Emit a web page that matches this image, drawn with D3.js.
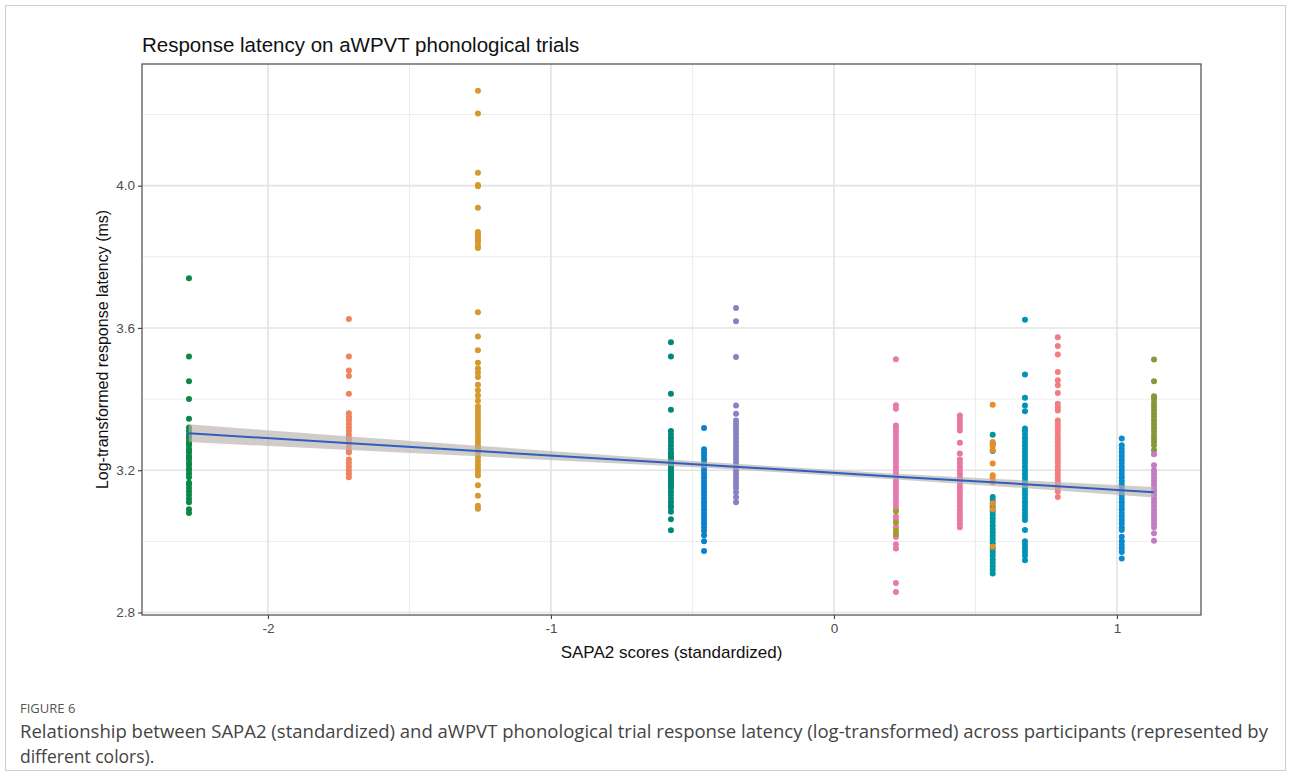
<!DOCTYPE html>
<html>
<head>
<meta charset="utf-8">
<script src="https://cdn.jsdelivr.net/npm/d3@7"></script>
<style>
  body { margin: 0; background: #fff; }
  svg text { font-family: "Liberation Sans", Arial, sans-serif; }
  .cap { font-family: "Open Sans", "Noto Sans", sans-serif !important; }
</style>
</head>
<body>
<div id="chart"></div>
<script>
var width = 1290,
    height = 776;

var margin = {left: 142, top: 64, right: 89, bottom: 161};

// participant x positions (SAPA2 standardized)
var xPos = [-2.279, -1.714, -1.258, -0.576, -0.459, -0.346, 0.219, 0.445, 0.561, 0.675, 0.791, 1.017, 1.131];

// response latencies, one array per participant
var green1 = [3.74, 3.52, 3.45, 3.40, 3.345, 3.32, 3.31, 3.30, 3.295, 3.29, 3.28, 3.275, 3.27, 3.26, 3.255, 3.25, 3.24, 3.235, 3.23, 3.22, 3.215, 3.205, 3.20, 3.19, 3.18, 3.165, 3.16, 3.15, 3.14, 3.13, 3.12, 3.11, 3.09, 3.08];
var salmon2 = [3.625, 3.52, 3.48, 3.465, 3.415, 3.36, 3.35, 3.345, 3.34, 3.33, 3.32, 3.31, 3.30, 3.29, 3.285, 3.275, 3.265, 3.255, 3.25, 3.23, 3.22, 3.21, 3.20, 3.19, 3.18];
var gold3 = [4.267, 4.203, 4.036, 4.002, 3.998, 3.938, 3.87, 3.865, 3.86, 3.855, 3.85, 3.845, 3.84, 3.83, 3.825, 3.644, 3.576, 3.537, 3.502, 3.486, 3.475, 3.462, 3.44, 3.425, 3.41, 3.395, 3.38, 3.37, 3.36, 3.35, 3.34, 3.33, 3.32, 3.31, 3.30, 3.29, 3.28, 3.27, 3.265, 3.26, 3.255, 3.25, 3.236, 3.225, 3.215, 3.205, 3.195, 3.185, 3.158, 3.128, 3.10, 3.092];
var teal4 = [3.56, 3.52, 3.415, 3.37, 3.31, 3.30, 3.29, 3.28, 3.27, 3.26, 3.25, 3.245, 3.24, 3.235, 3.23, 3.225, 3.22, 3.215, 3.21, 3.205, 3.20, 3.195, 3.19, 3.185, 3.18, 3.175, 3.17, 3.165, 3.16, 3.155, 3.15, 3.14, 3.13, 3.12, 3.11, 3.10, 3.095, 3.083, 3.062, 3.031];
var blue5 = [3.319, 3.259, 3.25, 3.24, 3.23, 3.22, 3.21, 3.20, 3.19, 3.18, 3.17, 3.16, 3.15, 3.14, 3.13, 3.12, 3.11, 3.10, 3.09, 3.08, 3.07, 3.06, 3.05, 3.04, 3.03, 3.017, 3.0, 2.973];
var lavender6 = [3.656, 3.619, 3.518, 3.382, 3.359, 3.34, 3.33, 3.32, 3.31, 3.30, 3.29, 3.28, 3.27, 3.26, 3.25, 3.24, 3.23, 3.22, 3.21, 3.20, 3.19, 3.18, 3.17, 3.16, 3.15, 3.138, 3.124, 3.11];
var pink7 = [3.512, 3.383, 3.373, 3.326, 3.32, 3.31, 3.30, 3.29, 3.28, 3.27, 3.26, 3.25, 3.24, 3.23, 3.22, 3.21, 3.20, 3.19, 3.18, 3.17, 3.16, 3.15, 3.14, 3.13, 3.12, 3.11, 3.10, 3.09, 3.07, 3.06, 3.04, 3.012, 2.992, 2.98, 2.883, 2.858];
var olive7 = [3.085, 3.052, 3.03, 3.02];
var pink8 = [3.354, 3.343, 3.333, 3.322, 3.312, 3.277, 3.247, 3.23, 3.22, 3.21, 3.20, 3.19, 3.18, 3.17, 3.16, 3.15, 3.14, 3.13, 3.12, 3.11, 3.10, 3.09, 3.08, 3.07, 3.06, 3.05, 3.04];
var teal9 = [3.300, 3.275, 3.254, 3.125, 3.115, 3.105, 3.095, 3.085, 3.075, 3.065, 3.055, 3.045, 3.035, 3.025, 3.015, 3.005, 2.995, 2.98, 2.97, 2.96, 2.95, 2.94, 2.93, 2.92, 2.91];
var orange9 = [3.384, 3.279, 3.268, 3.256, 3.219, 3.186, 3.178, 3.167, 3.107, 3.09, 2.985];
var tealblue10 = [3.623, 3.469, 3.404, 3.382, 3.366, 3.317, 3.31, 3.30, 3.29, 3.28, 3.27, 3.26, 3.25, 3.24, 3.23, 3.22, 3.21, 3.20, 3.19, 3.18, 3.17, 3.16, 3.15, 3.14, 3.13, 3.12, 3.11, 3.10, 3.09, 3.08, 3.07, 3.06, 3.032, 3.0, 2.99, 2.98, 2.97, 2.96, 2.947];
var salmon11 = [3.574, 3.549, 3.525, 3.476, 3.453, 3.439, 3.417, 3.387, 3.377, 3.368, 3.34, 3.33, 3.32, 3.31, 3.30, 3.29, 3.28, 3.27, 3.26, 3.25, 3.24, 3.23, 3.22, 3.21, 3.20, 3.19, 3.18, 3.17, 3.16, 3.15, 3.14, 3.125];
var blue12 = [3.289, 3.27, 3.26, 3.25, 3.24, 3.23, 3.22, 3.21, 3.20, 3.19, 3.18, 3.17, 3.16, 3.15, 3.14, 3.13, 3.12, 3.11, 3.10, 3.09, 3.08, 3.07, 3.06, 3.05, 3.04, 3.032, 3.013, 3.0, 2.99, 2.98, 2.97, 2.952];
var olive13 = [3.511, 3.45, 3.408, 3.40, 3.39, 3.38, 3.37, 3.36, 3.35, 3.34, 3.33, 3.32, 3.31, 3.30, 3.29, 3.28, 3.27, 3.256];
var orchid13 = [3.245, 3.214, 3.20, 3.19, 3.18, 3.17, 3.16, 3.15, 3.14, 3.13, 3.12, 3.11, 3.10, 3.09, 3.08, 3.07, 3.06, 3.05, 3.04, 3.023, 3.002];

// fitted line with confidence band
var fitX  = [-2.28, -1.71, -1.26, -0.58, -0.35, 0.22, 0.56, 0.79, 1.13];
var fitY  = [3.304, 3.276, 3.254, 3.221, 3.210, 3.182, 3.166, 3.155, 3.138];
var fitLo = [3.279, 3.257, 3.239, 3.212, 3.202, 3.174, 3.156, 3.143, 3.123];
var fitHi = [3.329, 3.295, 3.269, 3.230, 3.218, 3.190, 3.176, 3.167, 3.153];

var xTicks = [-2, -1, 0, 1];
var yTicks = [2.8, 3.2, 3.6, 4.0];

// draw order: later groups sit on top
var groups = [
  {x: xPos[0],  color: "#0b8746", values: green1},
  {x: xPos[1],  color: "#ef825f", values: salmon2},
  {x: xPos[2],  color: "#d5992e", values: gold3},
  {x: xPos[3],  color: "#00897a", values: teal4},
  {x: xPos[4],  color: "#0a82cb", values: blue5},
  {x: xPos[5],  color: "#8683c5", values: lavender6},
  {x: xPos[6],  color: "#e47aaf", values: pink7},
  {x: xPos[6],  color: "#a69a2e", values: olive7},
  {x: xPos[7],  color: "#ea77a0", values: pink8},
  {x: xPos[8],  color: "#00979f", values: teal9},
  {x: xPos[8],  color: "#e98d25", values: orange9},
  {x: xPos[9],  color: "#0093b8", values: tealblue10},
  {x: xPos[10], color: "#f27c80", values: salmon11},
  {x: xPos[11], color: "#0a8bcb", values: blue12},
  {x: xPos[12], color: "#879739", values: olive13},
  {x: xPos[12], color: "#c27cc2", values: orchid13}
];

var svg = d3.select("#chart").append("svg")
    .attr("width", width)
    .attr("height", height);

// outer figure frame
svg.append("rect")
    .attr("x", 5.5).attr("y", 5.5)
    .attr("width", 1280).attr("height", 765)
    .attr("fill", "none")
    .attr("stroke", "#cfcfcf");

var pw = width - margin.left - margin.right,
    ph = height - margin.top - margin.bottom;

var x = d3.scaleLinear()
    .domain([-2.445, 1.297])
    .range([0, pw]);

var y = d3.scaleLinear()
    .domain([2.793, 4.342])
    .range([ph, 0]);

var g = svg.append("g")
    .attr("transform", "translate(" + margin.left + "," + margin.top + ")");

// minor grid
var xMinor = [-1.5, -0.5, 0.5],
    yMinor = [3.0, 3.4, 3.8, 4.2];
g.selectAll(".xminor").data(xMinor)
  .enter().append("line")
    .attr("x1", x).attr("x2", x).attr("y1", 0).attr("y2", ph)
    .attr("stroke", "#ececec").attr("stroke-width", 1);
g.selectAll(".yminor").data(yMinor)
  .enter().append("line")
    .attr("y1", y).attr("y2", y).attr("x1", 0).attr("x2", pw)
    .attr("stroke", "#ececec").attr("stroke-width", 1);

// major grid
g.selectAll(".xmajor").data(xTicks)
  .enter().append("line")
    .attr("x1", x).attr("x2", x).attr("y1", 0).attr("y2", ph)
    .attr("stroke", "#e3e3e3").attr("stroke-width", 1.6);
g.selectAll(".ymajor").data(yTicks)
  .enter().append("line")
    .attr("y1", y).attr("y2", y).attr("x1", 0).attr("x2", pw)
    .attr("stroke", "#e3e3e3").attr("stroke-width", 1.6);

// points
groups.forEach(function(grp) {
  g.append("g").selectAll("circle")
      .data(grp.values)
    .enter().append("circle")
      .attr("cx", x(grp.x))
      .attr("cy", function(d) { return y(d); })
      .attr("r", 3)
      .attr("fill", grp.color);
});

// confidence band + fit
var fit = fitX.map(function(d, i) { return {x: d, y: fitY[i], lo: fitLo[i], hi: fitHi[i]}; });

g.append("path")
    .datum(fit)
    .attr("fill", "#b9b1ad")
    .attr("fill-opacity", 0.65)
    .attr("d", d3.area()
      .x(function(d) { return x(d.x); })
      .y0(function(d) { return y(d.lo); })
      .y1(function(d) { return y(d.hi); }));

g.append("path")
    .datum(fit)
    .attr("fill", "none")
    .attr("stroke", "#2d5fbd")
    .attr("stroke-width", 2)
    .attr("d", d3.line()
      .x(function(d) { return x(d.x); })
      .y(function(d) { return y(d.y); }));

// panel border
g.append("rect")
    .attr("width", pw).attr("height", ph)
    .attr("fill", "none")
    .attr("stroke", "#4a4a4a")
    .attr("stroke-width", 1.2);

// axes (plain hyphen minus like the original)
var xAxis = g.append("g")
    .attr("transform", "translate(0," + ph + ")")
    .call(d3.axisBottom(x).tickValues(xTicks).tickSize(4).tickPadding(4)
      .tickFormat(function(d) { return String(d); }));
var yAxis = g.append("g")
    .call(d3.axisLeft(y).tickValues(yTicks).tickSize(4).tickPadding(3).tickFormat(d3.format(".1f")));

[xAxis, yAxis].forEach(function(a) {
  a.select(".domain").remove();
  a.selectAll("line").attr("stroke", "#4a4a4a").attr("stroke-width", 1.2);
  a.selectAll("text").attr("fill", "#4d4d4d").style("font-size", "13.5px");
});

// titles
svg.append("text")
    .attr("x", 142).attr("y", 52)
    .style("font-size", "20.5px")
    .attr("fill", "#111")
    .text("Response latency on aWPVT phonological trials");

svg.append("text")
    .attr("x", margin.left + pw / 2).attr("y", 658)
    .attr("text-anchor", "middle")
    .style("font-size", "17px")
    .attr("fill", "#111")
    .text("SAPA2 scores (standardized)");

svg.append("text")
    .attr("transform", "translate(108," + (margin.top + ph / 2 + 10) + ")rotate(-90)")
    .attr("text-anchor", "middle")
    .style("font-size", "16px")
    .attr("fill", "#111")
    .text("Log-transformed response latency (ms)");

// caption
svg.append("text")
    .attr("class", "cap")
    .attr("x", 20).attr("y", 713)
    .style("font-size", "13px")
    .attr("fill", "#555")
    .text("FIGURE 6");

svg.append("text")
    .attr("class", "cap")
    .attr("x", 20).attr("y", 738)
    .attr("textLength", 1248)
    .attr("lengthAdjust", "spacingAndGlyphs")
    .style("font-size", "17.5px")
    .attr("fill", "#444")
    .text("Relationship between SAPA2 (standardized) and aWPVT phonological trial response latency (log-transformed) across participants (represented by");

svg.append("text")
    .attr("class", "cap")
    .attr("x", 20).attr("y", 763)
    .style("font-size", "17.5px")
    .attr("fill", "#444")
    .text("different colors).");
</script>
</body>
</html>
